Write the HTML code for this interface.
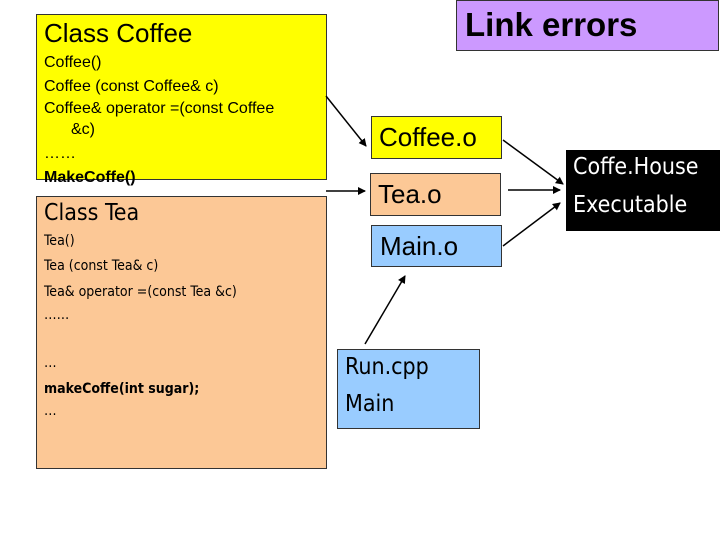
<!DOCTYPE html>
<html><head><style>
body{margin:0;width:720px;height:540px;background:#fff;position:relative;overflow:hidden;font-family:"Liberation Sans",sans-serif}
.b{position:absolute;box-sizing:border-box;border:1px solid #333}
.t{position:absolute;white-space:nowrap;color:#000;line-height:1}
.c{font-family:"DejaVu Sans Condensed","DejaVu Sans",sans-serif}
</style></head><body>
<div class="b" style="left:36px;top:14px;width:291px;height:166px;background:#ffff00"></div>
<div class="b" style="left:36px;top:196px;width:291px;height:273px;background:#fcc896"></div>
<div class="b" style="left:456px;top:0;width:263px;height:51px;background:#cc99ff"></div>
<div class="b" style="left:371px;top:116px;width:131px;height:43px;background:#ffff00"></div>
<div class="b" style="left:370px;top:173px;width:131px;height:43px;background:#fcc896"></div>
<div class="b" style="left:371px;top:225px;width:131px;height:42px;background:#99ccff"></div>
<div class="b" style="left:337px;top:349px;width:143px;height:80px;background:#99ccff"></div>
<div style="position:absolute;left:566px;top:150px;width:154px;height:81px;background:#000"></div>

<div class="t" style="left:44px;top:20px;font-size:26px">Class Coffee</div>
<div class="t" style="left:44px;top:55px;font-size:16px">Coffee()</div>
<div class="t" style="left:44px;top:79px;font-size:16px">Coffee (const Coffee&amp; c)</div>
<div class="t" style="left:44px;top:101px;font-size:16px">Coffee&amp; operator =(const Coffee</div>
<div class="t" style="left:71px;top:122px;font-size:16px">&amp;c)</div>
<div class="t" style="left:44px;top:146px;font-size:16px">……</div>
<div class="t" style="left:44px;top:170px;font-size:16px;font-weight:bold">MakeCoffe()</div>

<div class="t c" style="left:44px;top:202px;font-size:23px">Class Tea</div>
<div class="t c" style="left:44px;top:234px;font-size:14px">Tea()</div>
<div class="t c" style="left:44px;top:259px;font-size:14px">Tea (const Tea&amp; c)</div>
<div class="t c" style="left:44px;top:285px;font-size:14px">Tea&amp; operator =(const Tea &amp;c)</div>
<div class="t c" style="left:44px;top:308px;font-size:14px">……</div>
<div class="t c" style="left:44px;top:356px;font-size:14px">…</div>
<div class="t c" style="left:44px;top:382px;font-size:14px;font-weight:bold">makeCoffe(int sugar);</div>
<div class="t c" style="left:44px;top:404px;font-size:14px">…</div>

<div class="t" style="left:465px;top:8px;font-size:33px;font-weight:bold">Link errors</div>
<div class="t" style="left:379px;top:124px;font-size:26px">Coffee.o</div>
<div class="t" style="left:378px;top:181px;font-size:26px">Tea.o</div>
<div class="t" style="left:380px;top:233px;font-size:26px">Main.o</div>
<div class="t c" style="left:345px;top:356px;font-size:23px">Run.cpp</div>
<div class="t c" style="left:345px;top:393px;font-size:23px">Main</div>
<div class="t c" style="left:573px;top:156px;font-size:23px;color:#fff">Coffe.House</div>
<div class="t c" style="left:573px;top:194px;font-size:23px;color:#fff">Executable</div>

<svg width="720" height="540" style="position:absolute;left:0;top:0">
<defs><marker id="a" markerWidth="8" markerHeight="8" refX="7" refY="4" orient="auto" markerUnits="userSpaceOnUse"><path d="M0,0 L8,4 L0,8 z" fill="#000"/></marker></defs>
<g stroke="#000" stroke-width="1.5" marker-end="url(#a)">
<line x1="326" y1="96" x2="366" y2="146"/>
<line x1="326" y1="191" x2="365" y2="191"/>
<line x1="503" y1="140" x2="563" y2="184"/>
<line x1="508" y1="190" x2="560" y2="190"/>
<line x1="503" y1="246" x2="560" y2="203"/>
<line x1="365" y1="344" x2="405" y2="276"/>
</g></svg>
</body></html>
